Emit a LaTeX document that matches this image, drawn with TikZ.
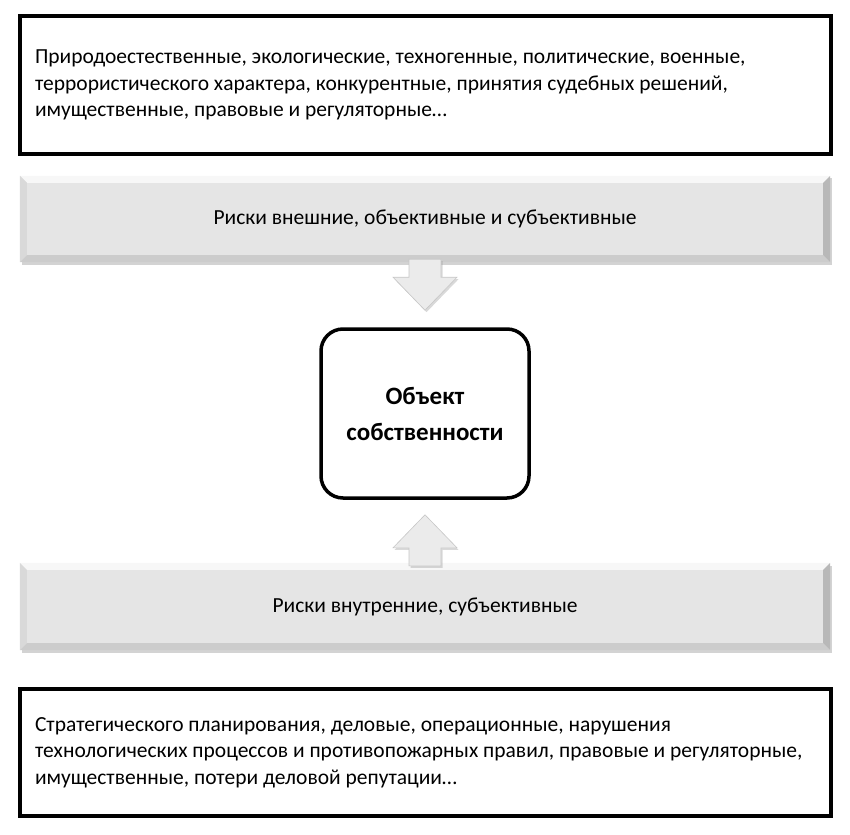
\documentclass[tikz,border=0pt]{standalone}
\usepackage{fontspec}
\setmainfont{Carlito}
\usetikzlibrary{calc,shadows}

\begin{document}
\begin{tikzpicture}[x=1pt, y=-1pt,
    listbox/.style={draw, line width=3.5pt, fill=white, minimum width=811pt,
      text width=781pt, align=flush left, font=\fontsize{21.5}{26.5}\selectfont},
    bandbox/.style={fill=black!10, minimum width=810pt, minimum height=86pt,
      drop shadow={shadow xshift=2pt, shadow yshift=-2.5pt, opacity=0.35}},
    bandtext/.style={font=\fontsize{21.5}{26.5}\selectfont},
    objbox/.style={draw, line width=3.5pt, fill=white, rounded corners=22pt,
      minimum width=208pt, minimum height=169pt, align=center,
      font=\bfseries\fontsize{25}{36}\selectfont},
    blockarrow/.style={fill=black!8, draw=black!22, line width=0.6pt,
      drop shadow={shadow xshift=1.5pt, shadow yshift=-2pt, opacity=0.3}}]
        \useasboundingbox (0,0) rectangle (850,834);

        % Lists of risks
        \node[listbox, minimum height=138pt] (extlist) at (425.5,85) {Природоестественные, экологические, техногенные, политические, военные,\\террористического характера, конкурентные, принятия судебных решений,\\имущественные, правовые и регуляторные\ldots};
        \node[listbox, minimum height=127pt] (intlist) at (425.5,752.5) {Стратегического планирования, деловые, операционные, нарушения\\технологических процессов и противопожарных правил, правовые и регуляторные,\\имущественные, потери деловой репутации\ldots};

        % Grey bands
        \node[bandbox] (ext) at (425,219) {};
        \node[bandbox, minimum height=87pt] (int) at (425,606.5) {};

        % Bevel of the bands
        \foreach \b in {ext,int} {
          \fill[black!3] (\b.north west) -- (\b.north east) -- ($(\b.north east)+(-7,7)$) -- ($(\b.north west)+(7,7)$) -- cycle;
          \fill[black!15] (\b.north west) -- ($(\b.north west)+(7,7)$) -- ($(\b.south west)+(7,-7)$) -- (\b.south west) -- cycle;
          \fill[black!20] (\b.south west) -- ($(\b.south west)+(7,-7)$) -- ($(\b.south east)+(-7,-7)$) -- (\b.south east) -- cycle;
          \fill[black!28] (\b.north east) -- (\b.south east) -- ($(\b.south east)+(-7,-7)$) -- ($(\b.north east)+(-7,7)$) -- cycle;
        }
        \node[bandtext] (exttext) at (ext.center) {Риски внешние, объективные и субъективные};
        \node[bandtext] (inttext) at (int.center) {Риски внутренние, субъективные};

        % Object in the middle
        \node[objbox] (obj) at (425,413.5) {Объект\\собственности};

        % Block arrows towards the object
        \draw[blockarrow] ($(ext.south)+(-16,-3)$) -- ++(0,18) -- ++(-16,0) -- ++(32,33) -- ++(32,-33) -- ++(-16,0) -- ++(0,-18) -- cycle;
        \draw[blockarrow] ($(int.north)+(-16,3)$) -- ++(0,-18) -- ++(-16,0) -- ++(32,-33) -- ++(32,33) -- ++(-16,0) -- ++(0,18) -- cycle;
      \end{tikzpicture}
\end{document}
